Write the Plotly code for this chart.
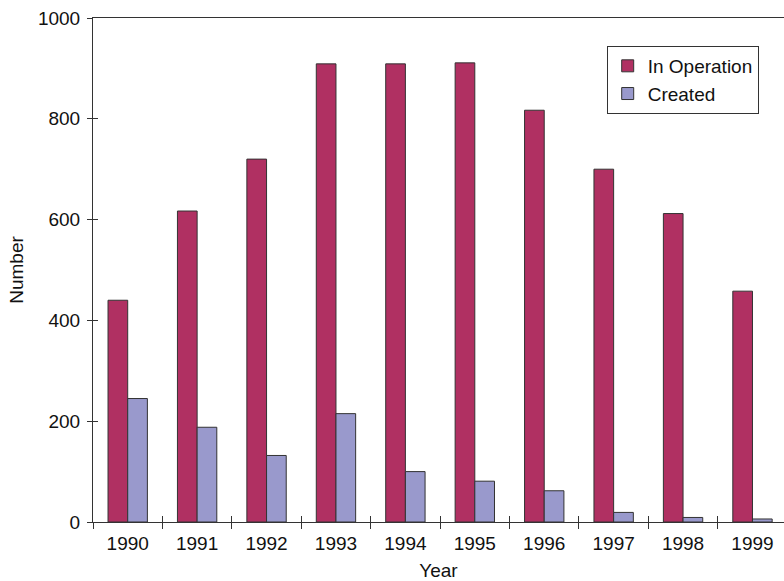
import plotly.graph_objects as go

years = ["1990", "1991", "1992", "1993", "1994", "1995", "1996", "1997", "1998", "1999"]
in_operation = [440, 617, 720, 909, 909, 911, 817, 700, 612, 458]
created = [245, 188, 132, 215, 100, 81, 62, 19, 9, 6]
y_ticks = [0, 200, 400, 600, 800, 1000]

FONT = "Liberation Sans, Arial, Helvetica, sans-serif"
LINE = "#333333"
FS = 19
X_RANGE = [-0.5, 9.454]
Y_RANGE = [0, 1000]

fig = go.Figure()
fig.add_trace(go.Bar(
    x=years, y=in_operation, name="In Operation",
    marker=dict(color="#B03062", line=dict(color=LINE, width=1)),
))
fig.add_trace(go.Bar(
    x=years, y=created, name="Created",
    marker=dict(color="#9999CC", line=dict(color=LINE, width=1)),
))

fig.update_layout(
    width=784, height=581,
    margin=dict(l=93, r=0, t=18, b=59),
    paper_bgcolor="white", plot_bgcolor="white",
    font=dict(family=FONT, size=FS, color="#111111"),
    barmode="group", bargap=0.433, bargroupgap=0,
    showlegend=True,
    legend=dict(
        x=0.7434, y=0.9445, xanchor="left", yanchor="top",
        bgcolor="white", bordercolor=LINE, borderwidth=1,
        font=dict(family=FONT, size=FS, color="#111111"),
        itemwidth=30, tracegroupgap=0,
    ),
    xaxis=dict(
        type="category", range=X_RANGE,
        showline=True, linecolor=LINE, linewidth=1, mirror=True,
        ticks="outside", ticklen=6, tickwidth=1, tickcolor=LINE,
        tickson="boundaries", showgrid=False, zeroline=False,
        tickfont=dict(size=FS), ticklabelstandoff=4,
        title=dict(text="Year", font=dict(size=FS), standoff=12),
    ),
    yaxis=dict(
        range=Y_RANGE, tickvals=y_ticks,
        showline=True, linecolor=LINE, linewidth=1,
        ticks="outside", ticklen=5, tickwidth=1, tickcolor=LINE,
        showgrid=False, zeroline=False,
        tickfont=dict(size=FS), ticklabelstandoff=3,
        title=dict(text="Number", font=dict(size=FS), standoff=9),
    ),
    # overlay axes supply the inner half of the crossing tick marks
    xaxis2=dict(
        type="category", overlaying="x", range=X_RANGE,
        categoryarray=years, categoryorder="array",
        ticks="inside", ticklen=6, tickwidth=1, tickcolor=LINE,
        tickson="boundaries", showticklabels=False, showgrid=False,
        zeroline=False, showline=False,
    ),
    yaxis2=dict(
        overlaying="y", range=Y_RANGE, tickvals=y_ticks,
        ticks="inside", ticklen=5, tickwidth=1, tickcolor=LINE,
        showticklabels=False, showgrid=False, zeroline=False, showline=False,
    ),
)

# invisible trace anchoring the overlay axes
fig.add_trace(go.Bar(
    x=years, y=[0] * len(years), xaxis="x2", yaxis="y2",
    showlegend=False, hoverinfo="skip", marker=dict(opacity=0),
))

fig.write_html("out.html")
